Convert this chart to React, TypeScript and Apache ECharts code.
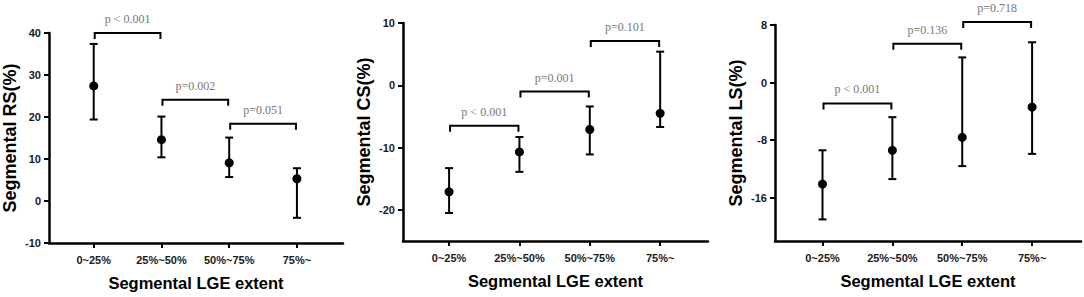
import React, { useEffect, useRef } from 'react';
import * as echarts from 'echarts';

const categories = ['0~25%', '25%~50%', '50%~75%', '75%~'];
const xTitle = 'Segmental LGE extent';

// Segmental RS(%)
const rsMean = [27.4, 14.6, 9.1, 5.3];
const rsLow = [19.4, 10.4, 5.7, -4.0];
const rsHigh = [37.4, 20.1, 15.1, 7.8];
const rsTicks = [-10, 0, 10, 20, 30, 40];
const rsBracketFrom = [0, 1, 2];
const rsBracketTo = [1, 2, 3];
const rsBracketY = [40, 24.1, 18.4];
const rsBracketLabels = ['p < 0.001', 'p=0.002', 'p=0.051'];

// Segmental CS(%)
const csMean = [-17.1, -10.7, -7.1, -4.5];
const csLow = [-20.5, -13.9, -11.1, -6.7];
const csHigh = [-13.3, -8.3, -3.4, 5.4];
const csTicks = [-20, -10, 0, 10];
const csBracketFrom = [0, 1, 2];
const csBracketTo = [1, 2, 3];
const csBracketY = [-6.5, -1.0, 7.1];
const csBracketLabels = ['p < 0.001', 'p=0.001', 'p=0.101'];

// Segmental LS(%)
const lsMean = [-14.1, -9.4, -7.6, -3.4];
const lsLow = [-19.0, -13.4, -11.6, -9.9];
const lsHigh = [-9.4, -4.8, 3.5, 5.6];
const lsTicks = [-16, -8, 0, 8];
const lsBracketFrom = [0, 1, 2];
const lsBracketTo = [1, 2, 3];
const lsBracketY = [-2.9, 5.4, 8.4];
const lsBracketLabels = ['p < 0.001', 'p=0.136', 'p=0.718'];

const panels = [
  {
    title: 'Segmental RS(%)', mean: rsMean, low: rsLow, high: rsHigh, ticks: rsTicks,
    yMin: -10, yMax: 40, xMin: -0.66, xMax: 3.68,
    from: rsBracketFrom, to: rsBracketTo, by: rsBracketY, labels: rsBracketLabels,
    grid: { left: 48, top: 33, width: 295, height: 210 },
  },
  {
    title: 'Segmental CS(%)', mean: csMean, low: csLow, high: csHigh, ticks: csTicks,
    yMin: -25, yMax: 10, xMin: -0.655, xMax: 3.68,
    from: csBracketFrom, to: csBracketTo, by: csBracketY, labels: csBracketLabels,
    grid: { left: 403, top: 23, width: 305, height: 218 },
  },
  {
    title: 'Segmental LS(%)', mean: lsMean, low: lsLow, high: lsHigh, ticks: lsTicks,
    yMin: -22, yMax: 8, xMin: -0.68, xMax: 3.7,
    from: lsBracketFrom, to: lsBracketTo, by: lsBracketY, labels: lsBracketLabels,
    grid: { left: 775, top: 25, width: 306, height: 216 },
  },
];

const catIdx = [0, 1, 2, 3];

export default function App() {
  const ref = useRef<HTMLDivElement>(null);
  useEffect(() => {
    document.body.style.margin = '0';
    const chart = echarts.init(ref.current!, null, { renderer: 'svg' });
    const grids: any[] = [];
    const xAxes: any[] = [];
    const yAxes: any[] = [];
    const series: any[] = [];
    panels.forEach((p, i) => {
      grids.push({ ...p.grid });
      xAxes.push({
        type: 'value', gridIndex: i, min: p.xMin, max: p.xMax,
        name: xTitle, nameLocation: 'middle', nameGap: 31,
        nameTextStyle: { fontFamily: 'Liberation Sans', fontWeight: 'bold', fontSize: 16.5, color: '#000' },
        axisLine: { show: true, onZero: false, lineStyle: { color: '#000', width: 2.5 } },
        axisTick: { show: true, customValues: catIdx, length: 5, lineStyle: { color: '#000', width: 2 } },
        axisLabel: {
          customValues: catIdx, margin: 11,
          formatter: (v: number) => categories[Math.round(v)],
          fontFamily: 'Liberation Sans', fontWeight: 'bold', fontSize: 11, color: '#1a1a1a',
        },
        splitLine: { show: false },
      });
      yAxes.push({
        type: 'value', gridIndex: i, min: p.yMin, max: p.yMax,
        name: p.title, nameLocation: 'middle', nameGap: 30, nameRotate: 90,
        nameTextStyle: { fontFamily: 'Liberation Sans', fontWeight: 'bold', fontSize: 18, color: '#000' },
        axisLine: { show: true, onZero: false, lineStyle: { color: '#000', width: 2.5 } },
        axisTick: { show: true, customValues: p.ticks, length: 5, lineStyle: { color: '#000', width: 2 } },
        axisLabel: {
          customValues: p.ticks, margin: 8,
          fontFamily: 'Liberation Sans', fontWeight: 'bold', fontSize: 11, color: '#1a1a1a',
        },
        splitLine: { show: false },
      });
      const labels = p.labels;
      series.push({
        type: 'custom', xAxisIndex: i, yAxisIndex: i, clip: false, z: 2,
        data: catIdx.map((c) => [c, p.low[c], p.high[c]]),
        encode: { x: 0, y: [1, 2] },
        renderItem: (params: any, api: any) => {
          const x = api.value(0);
          const lo = api.coord([x, api.value(1)]);
          const hi = api.coord([x, api.value(2)]);
          const hw = 4;
          const st = { stroke: '#000', lineWidth: 2 };
          return {
            type: 'group',
            children: [
              { type: 'line', shape: { x1: lo[0], y1: lo[1], x2: hi[0], y2: hi[1] }, style: st },
              { type: 'line', shape: { x1: lo[0] - hw, y1: lo[1], x2: lo[0] + hw, y2: lo[1] }, style: st },
              { type: 'line', shape: { x1: hi[0] - hw, y1: hi[1], x2: hi[0] + hw, y2: hi[1] }, style: st },
            ],
          };
        },
      });
      series.push({
        type: 'scatter', xAxisIndex: i, yAxisIndex: i, z: 3,
        symbol: 'circle', symbolSize: 9,
        itemStyle: { color: '#000', opacity: 1 },
        data: catIdx.map((c) => [c, p.mean[c]]),
      });
      series.push({
        type: 'custom', xAxisIndex: i, yAxisIndex: i, clip: false, z: 2,
        data: p.from.map((f, k) => [f, p.to[k], p.by[k]]),
        encode: { x: [0, 1], y: 2 },
        renderItem: (params: any, api: any) => {
          const a = api.coord([api.value(0), api.value(2)]);
          const b = api.coord([api.value(1), api.value(2)]);
          const leg = 6;
          return {
            type: 'group',
            children: [
              {
                type: 'polyline',
                shape: { points: [[a[0] + 1, a[1] + leg], [a[0] + 1, a[1]], [b[0] - 1, b[1]], [b[0] - 1, b[1] + leg]] },
                style: { stroke: '#000', lineWidth: 2, fill: 'none' },
              },
              {
                type: 'text',
                x: (a[0] + b[0]) / 2, y: a[1] - 14,
                style: {
                  text: labels[params.dataIndex], align: 'center', verticalAlign: 'middle',
                  fontFamily: 'Liberation Serif', fontSize: 12, fill: '#777777',
                },
              },
            ],
          };
        },
      });
    });
    chart.setOption({
      animation: false,
      backgroundColor: '#fff',
      grid: grids,
      xAxis: xAxes,
      yAxis: yAxes,
      series,
    });
    return () => chart.dispose();
  }, []);
  return <div ref={ref} style={{ width: 1084, height: 297 }} />;
}
